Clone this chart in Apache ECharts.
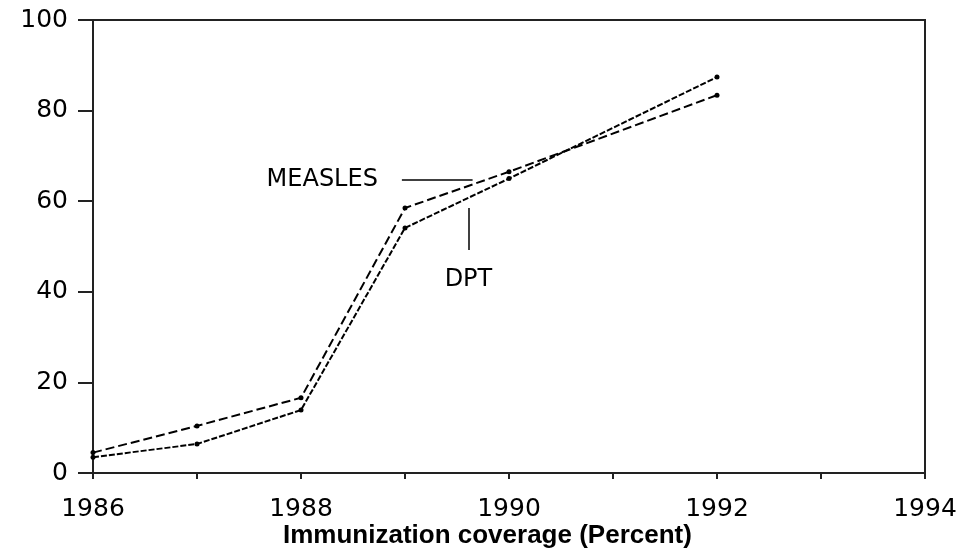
<!DOCTYPE html>
<html>
<head>
<meta charset="utf-8">
<script src="https://cdn.jsdelivr.net/npm/echarts@6/dist/echarts.min.js"></script>
<style>
  html,body{margin:0;padding:0;background:#fff}
  #chart{width:970px;height:555px}
</style>
</head>
<body>
<div id="chart"></div>
<script>
// years
const years=[1986,1987,1988,1989,1990,1992]
// coverage in percent
const measles=[4.5,10.4,16.6,58.5,66.5,83.4]
const dpt=[3.5,6.4,13.9,54.1,65,87.4]
const yTicks=[0,20,40,60,80,100]
// leader lines for the two labels (data coords)
const measlesLeader=[[1988.97,64.7],[1989.65,64.7]]
const dptLeader=[[1989.61,49.2],[1989.61,58.5]]

const labelFont='DejaVu Sans'

function pairs(vals){
  return years.map((y,i)=>[y,vals[i]])
}

const myChart=echarts.init(document.querySelector('#chart'))
const option={
  animation:false,
  title:{
    text:'Immunization coverage (Percent)',
    left:283,
    top:523,
    padding:0,
    textStyle:{fontFamily:'Liberation Sans',fontWeight:'bold',fontSize:26,color:'#000'}
  },
  grid:{
    left:93,right:45,top:20,bottom:82,
    show:true,borderColor:'#222',borderWidth:2
  },
  xAxis:{
    type:'value',
    min:1986,max:1994,interval:1,
    axisLine:{lineStyle:{color:'#222',width:2}},
    axisTick:{show:true,length:6,lineStyle:{color:'#222',width:2}},
    splitLine:{show:false},
    axisLabel:{
      margin:24,
      fontFamily:labelFont,fontSize:25,color:'#000',
      formatter:v=>(v%2===0?String(v):'')
    }
  },
  yAxis:{
    type:'value',
    min:yTicks[0],max:yTicks[yTicks.length-1],interval:20,
    axisLine:{show:true,lineStyle:{color:'#222',width:2}},
    axisTick:{show:true,length:15,lineStyle:{color:'#222',width:2}},
    splitLine:{show:false},
    axisLabel:{margin:25,fontFamily:labelFont,fontSize:25,color:'#000'}
  },
  series:[
    {
      name:'MEASLES',
      type:'line',
      data:pairs(measles),
      symbol:'circle',symbolSize:5,
      itemStyle:{color:'#000'},
      lineStyle:{color:'#000',width:2,type:[9,4]},
      markLine:{
        silent:true,
        symbol:['none','none'],
        lineStyle:{color:'#000',width:1.5,type:'solid'},
        label:{
          show:true,position:'start',distance:24,
          formatter:'MEASLES',
          fontFamily:labelFont,fontSize:24,color:'#000'
        },
        data:[[{coord:measlesLeader[0]},{coord:measlesLeader[1]}]]
      }
    },
    {
      name:'DPT',
      type:'line',
      data:pairs(dpt),
      symbol:'circle',symbolSize:5,
      itemStyle:{color:'#000'},
      lineStyle:{color:'#000',width:2,type:[6,2]},
      markLine:{
        silent:true,
        symbol:['none','none'],
        lineStyle:{color:'#000',width:1.5,type:'solid'},
        label:{
          show:true,position:'start',distance:18,
          formatter:'DPT',
          fontFamily:labelFont,fontSize:24,color:'#000'
        },
        data:[[{coord:dptLeader[0]},{coord:dptLeader[1]}]]
      }
    }
  ]
}
myChart.setOption(option)
</script>
</body>
</html>
